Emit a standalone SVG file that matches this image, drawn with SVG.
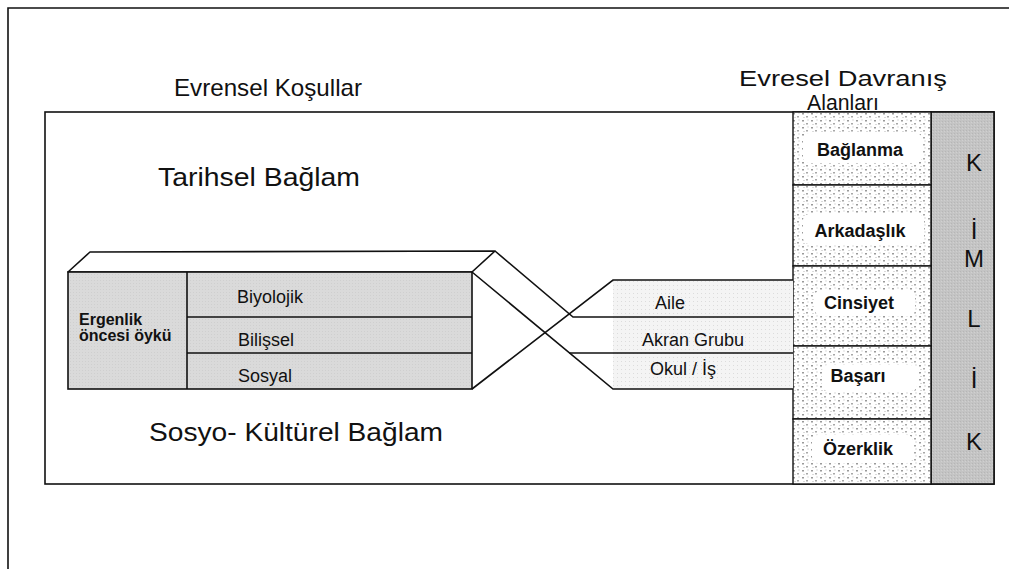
<svg xmlns="http://www.w3.org/2000/svg" width="1009" height="569" viewBox="0 0 1009 569">
<defs>
<pattern id="speckle" width="9" height="7" patternUnits="userSpaceOnUse">
<rect width="9" height="7" fill="#ffffff"/>
<rect x="1" y="1" width="2" height="1.5" fill="#9a9a9a"/>
<rect x="5" y="4" width="2" height="1.5" fill="#a8a8a8"/>
<rect x="6.5" y="0.5" width="1" height="1" fill="#b8b8b8"/>
<rect x="2.5" y="5" width="1" height="1" fill="#b8b8b8"/>
</pattern>
<pattern id="dots" width="4" height="4" patternUnits="userSpaceOnUse">
<rect width="4" height="4" fill="#f4f4f4"/>
<rect x="1" y="1" width="1" height="1" fill="#dcdcdc"/>
</pattern>
<pattern id="grayTex" width="3" height="3" patternUnits="userSpaceOnUse">
<rect width="3" height="3" fill="#dadada"/>
<rect x="1" y="1" width="1" height="1" fill="#cfcfcf"/>
</pattern>
<pattern id="darkTex" width="3" height="3" patternUnits="userSpaceOnUse">
<rect width="3" height="3" fill="#c4c4c4"/>
<rect x="0" y="1" width="1" height="1" fill="#b6b6b6"/>
<rect x="2" y="2" width="1" height="1" fill="#d0d0d0"/>
</pattern>
</defs>
<style>
.ln{fill:none;stroke:#111;stroke-width:1.6}
.t{font-family:"Liberation Sans",Arial,sans-serif;fill:#111}
.title{font-size:22px}
.big{font-size:26px}
.mid{font-size:18px}
.bold{font-size:18px;font-weight:bold}
.kim{font-size:24px}
</style>
<rect width="1009" height="569" fill="#ffffff"/>
<path class="ln" d="M8,569 V8 H1009" stroke-width="1.4"/>

<g id="titles">
<text class="t" x="268" y="96" font-size="24" text-anchor="middle" textLength="188" lengthAdjust="spacingAndGlyphs">Evrensel Koşullar</text>
<text class="t title" x="843" y="86" text-anchor="middle" textLength="208" lengthAdjust="spacingAndGlyphs">Evresel  Davranış</text>
<text class="t title" x="843" y="110" text-anchor="middle" textLength="72" lengthAdjust="spacingAndGlyphs">Alanları</text>
</g>

<g id="main-frame">
<rect class="ln" x="45" y="112" width="949" height="372"/>
<text class="t big" x="158" y="186" textLength="202" lengthAdjust="spacingAndGlyphs">Tarihsel Bağlam</text>
<text class="t big" x="149" y="441" textLength="294" lengthAdjust="spacingAndGlyphs">Sosyo- Kültürel Bağlam</text>
</g>

<g id="kimlik">
<rect x="931" y="112" width="63" height="372" fill="url(#darkTex)" stroke="#111" stroke-width="1.6"/>
<text class="t kim" x="974" y="171" text-anchor="middle">K</text>
<text class="t kim" x="974" y="239" text-anchor="middle">İ</text>
<text class="t kim" x="974" y="267" text-anchor="middle">M</text>
<text class="t kim" x="974" y="327" text-anchor="middle">L</text>
<text class="t kim" x="974" y="388" text-anchor="middle">İ</text>
<text class="t kim" x="974" y="450" text-anchor="middle">K</text>
</g>

<g id="baglanma">
<rect x="793" y="112" width="138" height="73" fill="url(#speckle)" stroke="#111" stroke-width="1.4"/>
<rect x="803" y="133" width="119" height="30" rx="6" fill="#fff"/>
<text class="t bold" x="860" y="156" text-anchor="middle">Bağlanma</text>
</g>
<g id="arkadaslik">
<rect x="793" y="185" width="138" height="81" fill="url(#speckle)" stroke="#111" stroke-width="1.4"/>
<rect x="803" y="214" width="121" height="30" rx="6" fill="#fff"/>
<text class="t bold" x="860" y="237" text-anchor="middle">Arkadaşlık</text>
</g>
<g id="cinsiyet">
<rect x="793" y="266" width="138" height="80" fill="url(#speckle)" stroke="#111" stroke-width="1.4"/>
<rect x="815" y="290" width="100" height="26" rx="6" fill="#fff"/>
<text class="t bold" x="859" y="309" text-anchor="middle">Cinsiyet</text>
</g>
<g id="basari">
<rect x="793" y="346" width="138" height="73" fill="url(#speckle)" stroke="#111" stroke-width="1.4"/>
<rect x="822" y="365" width="95" height="26" rx="6" fill="#fff"/>
<text class="t bold" x="858" y="382" text-anchor="middle">Başarı</text>
</g>
<g id="ozerklik">
<rect x="793" y="419" width="138" height="65" fill="url(#speckle)" stroke="#111" stroke-width="1.4"/>
<rect x="812" y="435" width="101" height="28" rx="6" fill="#fff"/>
<text class="t bold" x="858" y="455" text-anchor="middle">Özerklik</text>
</g>

<g id="oncesi-box">
<polygon points="68,272 90,252 495,251 472,272" fill="#fff" stroke="#111" stroke-width="1.6" stroke-linejoin="round"/>
<rect x="68" y="272" width="404" height="117" fill="url(#grayTex)" stroke="#111" stroke-width="1.6"/>
<line class="ln" x1="187" y1="272" x2="187" y2="389"/>
<line class="ln" x1="187" y1="317" x2="472" y2="317"/>
<line class="ln" x1="187" y1="353" x2="472" y2="353"/>
<text class="t" x="79" y="325" font-size="16" font-weight="bold">Ergenlik</text>
<text class="t" x="79" y="341" font-size="16" font-weight="bold">öncesi öykü</text>
<text class="t mid" x="237" y="303">Biyolojik</text>
<text class="t mid" x="238" y="346">Bilişsel</text>
<text class="t mid" x="238" y="382">Sosyal</text>
</g>

<g id="ortam">
<rect x="613" y="280" width="180" height="109" fill="url(#dots)"/>
<text class="t mid" x="670" y="309" text-anchor="middle">Aile</text>
<text class="t mid" x="693" y="346" text-anchor="middle">Akran Grubu</text>
<text class="t mid" x="683" y="375" text-anchor="middle">Okul / İş</text>
</g>

<g id="connectors">
<polyline class="ln" points="495,251 573,317 793,317"/>
<polyline class="ln" points="472,272 613,389 793,389"/>
<polyline class="ln" points="472,389 613,280 793,280"/>
<polyline class="ln" points="569,353 793,353"/>
</g>
</svg>
